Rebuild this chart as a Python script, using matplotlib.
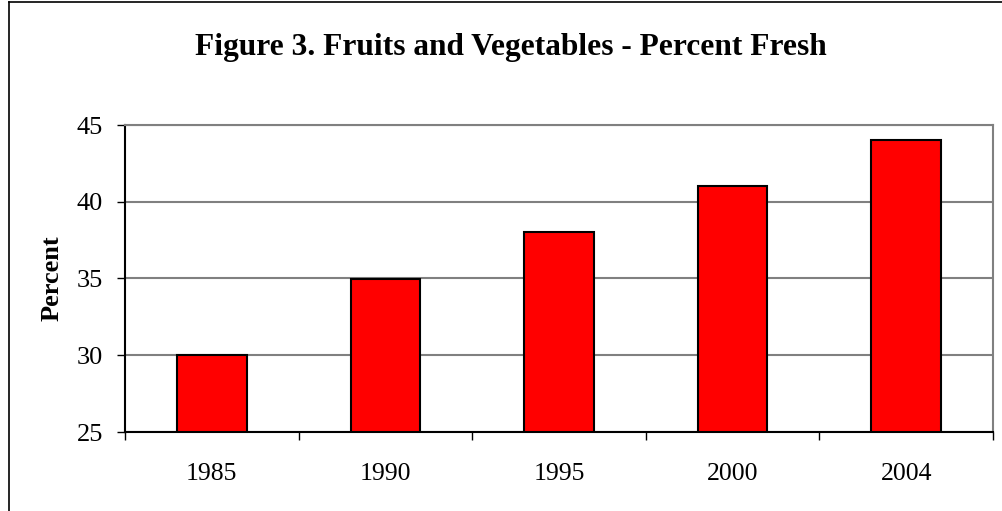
import matplotlib
matplotlib.use("Agg")
import matplotlib.pyplot as plt
from matplotlib.lines import Line2D

years = ["1985", "1990", "1995", "2000", "2004"]
percent_fresh = [30, 35, 38, 41, 44]
y_ticks = [25, 30, 35, 40, 45]

plt.rcParams['font.family'] = ['Liberation Serif', 'DejaVu Serif']

W, H = 1002, 511
fig = plt.figure(figsize=(W / 100, H / 100), dpi=100)

# chart border (only left and top visible in the original)
fig.add_artist(Line2D([9 / W, 9 / W], [0, 1 - 2 / H], color='black', lw=1.2))
fig.add_artist(Line2D([9 / W, 1], [1 - 2 / H, 1 - 2 / H], color='black', lw=1.2))

ax = fig.add_axes([125 / W, (H - 432) / H, (993 - 125) / W, (432 - 125) / H])
x = range(len(years))
ax.bar(x, [v - 25 for v in percent_fresh], bottom=25, width=0.4,
       color='#ff0000', edgecolor='black', linewidth=1.5, zorder=3)

ax.set_xlim(-0.5, len(years) - 0.5)
ax.set_ylim(25, 45)
ax.set_yticks(y_ticks)
ax.set_yticklabels([str(t) for t in y_ticks], fontsize=19)
ax.set_xticks([i - 0.5 for i in range(len(years) + 1)], minor=False)
ax.set_xticklabels([])
ax.set_xticks(list(x), minor=True)
ax.set_xticklabels(years, minor=True, fontsize=18.5)
ax.tick_params(axis='x', which='minor', length=0, pad=22)
ax.tick_params(axis='x', which='major', length=5.8, width=1, direction='out')
ax.tick_params(axis='y', length=5.8, width=1, direction='out', pad=10)

ax.grid(axis='y', color='#808080', linewidth=1.5, zorder=0)
for s in ['top', 'right']:
    ax.spines[s].set_color('#808080')
    ax.spines[s].set_linewidth(1.5)
for s in ['left', 'bottom']:
    ax.spines[s].set_color('black')
    ax.spines[s].set_linewidth(1.5)

fig.text(52 / W, 1 - 278 / H, "Percent", rotation=90, ha='center', va='center',
         fontsize=19, fontweight='bold')
fig.text(511 / W, 1 - 47 / H, "Figure 3. Fruits and Vegetables - Percent Fresh",
         ha='center', va='center', fontsize=22.6, fontweight='bold')

fig.savefig("out.png", dpi=100)
